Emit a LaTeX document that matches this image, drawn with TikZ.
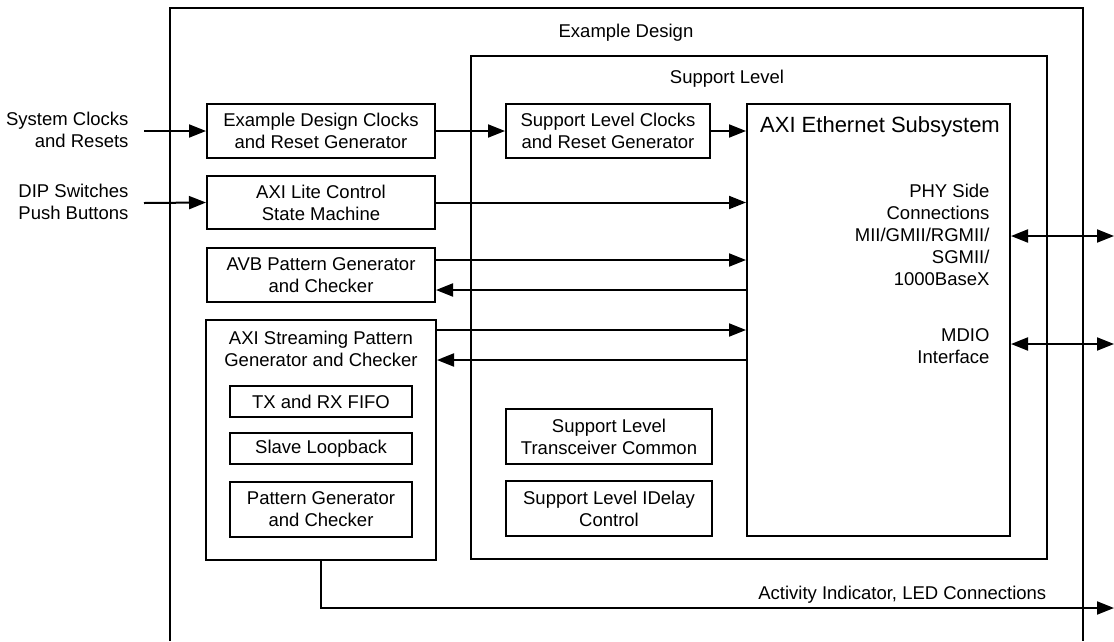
\documentclass[tikz,border=0pt]{standalone}
\usepackage{fontspec}
\setmainfont{Liberation Sans}
\usetikzlibrary{positioning}
\usetikzlibrary{calc}
\usetikzlibrary{arrows.meta}

\begin{document}
\begin{tikzpicture}[x=1pt, y=-1pt,
    font=\fontsize{18.5}{22}\selectfont,
    blk/.style={draw, line width=2pt, align=center, inner sep=0pt},
    wire/.style={line width=2pt},
    sig/.style={wire, -{Triangle[length=17pt, width=13pt]}},
    bidir/.style={wire, {Triangle[length=17pt, width=13pt]}-{Triangle[length=17pt, width=13pt]}}]

    \useasboundingbox (0,0) rectangle (1114,641);

    \draw[wire] (170,641) -- (170,8) -- (1083,8) -- (1083,641);
    \node (edtitle) at (626,33) {Example Design};

    \node[blk, minimum width=576pt, minimum height=503pt] (support) at (759,307.5) {};
    \node (sltitle) at (727,79) {Support Level};

    \node[blk, minimum width=263pt, minimum height=432pt] (eth) at (878.5,320) {};
    \node[font=\fontsize{22}{26}\selectfont] (ethtitle) at (880,127) {AXI Ethernet Subsystem};
    \node[align=right, anchor=east] (phytxt) at (993,235) {PHY Side\\Connections\\MII/GMII/RGMII/\\SGMII/\\1000BaseX};
    \node[align=right, anchor=east] (mdiotxt) at (993,346) {MDIO\\Interface};

    \node[blk, minimum width=228pt, minimum height=54pt] (edclk) at (321,131) {Example Design Clocks\\and Reset Generator};
    \node[blk, minimum width=228pt, minimum height=53pt] (axilite) at (321,202.5) {AXI Lite Control\\State Machine};
    \node[blk, minimum width=228pt, minimum height=54pt] (avb) at (321,275) {AVB Pattern Generator\\and Checker};

    \node[blk, minimum width=230pt, minimum height=240pt] (axis) at (321,440) {};
    \node[align=center] (axistitle) at (321,349) {AXI Streaming Pattern\\Generator and Checker};
    \node[blk, minimum width=182pt, minimum height=31pt] (fifo) at (321,401.5) {TX and RX FIFO};
    \node[blk, minimum width=182pt, minimum height=31pt] (loop) at (321,448.5) {Slave Loopback};
    \node[blk, minimum width=182pt, minimum height=55pt] (pgen) at (321,509.5) {Pattern Generator\\and Checker};

    \node[blk, minimum width=204pt, minimum height=54pt] (slclk) at (608,131) {Support Level Clocks\\and Reset Generator};
    \node[blk, minimum width=206pt, minimum height=55pt] (xcvr) at (609,436.5) {Support Level\\Transceiver Common};
    \node[blk, minimum width=206pt, minimum height=55pt] (idly) at (609,508.5) {Support Level IDelay\\Control};

    \node[align=right, anchor=east] (sysclktxt) at (132,130) {System Clocks\\and Resets};
    \node[align=right, anchor=east] (diptxt) at (132,201.5) {DIP Switches\\Push Buttons};
    \coordinate (sysclkin) at (144,131);
    \coordinate (dipin) at (144,203);
    \coordinate (phyout) at (1114,236);
    \coordinate (mdioout) at (1114,344);
    \coordinate (ledout) at (1114,608);

    \draw[sig] (sysclkin) -- (edclk.west);
    \draw[sig] (dipin) -- (axilite.west);
    \draw[sig] (edclk) -- (slclk);
    \draw[sig] (slclk.east) -- (slclk.east -| eth.west);
    \draw[sig] (axilite.east) -- (axilite.east -| eth.west);
    \draw[sig] ([yshift=15pt]avb.east) -- ([yshift=15pt]avb.east -| eth.west);
    \draw[sig] ([yshift=-15pt]avb.east -| eth.west) -- ([yshift=-15pt]avb.east);
    \draw[sig] ([yshift=-11pt]axis.north east) -- ([yshift=-11pt]axis.north east -| eth.west);
    \draw[sig] ([yshift=-41pt]axis.north east -| eth.west) -- ([yshift=-41pt]axis.north east);

    \draw[bidir] (phyout -| eth.east) -- (phyout);
    \draw[bidir] (mdioout -| eth.east) -- (mdioout);

    \draw[sig] (axis.south) |- (ledout) node[pos=0.96, anchor=south east] (ledtxt) {Activity Indicator, LED Connections};
\end{tikzpicture}
\end{document}
